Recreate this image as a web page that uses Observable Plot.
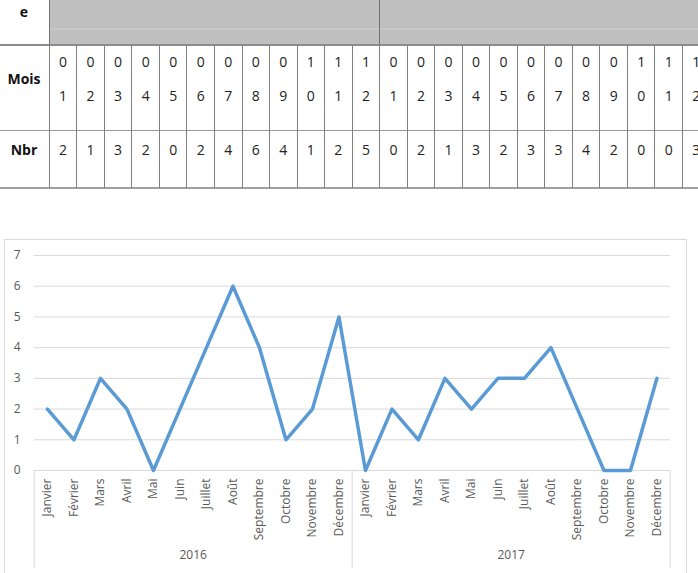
<!DOCTYPE html>
<html><head><meta charset="utf-8">
<script src="https://cdn.jsdelivr.net/npm/d3@7"></script>
<script src="https://cdn.jsdelivr.net/npm/@observablehq/plot@0.6"></script>
<style>
body{margin:0;background:#fff;overflow:hidden}
#page{position:relative;width:698px;height:573px;overflow:hidden;font-family:"Open Sans",sans-serif;background:#fff}
.t{position:absolute;transform:translate(-50%,-50%);font-size:14px;line-height:1;color:#222;white-space:nowrap}
.b{font-weight:bold;color:#111}
.ln{position:absolute}
#chartbox{position:absolute;left:4px;top:239px;width:681px;height:400px;border:1px solid #D9D9D9}
#chart{position:absolute;left:0;top:230px}
</style></head><body><div id="page"><div id="chartbox"></div><div id="chart"></div></div>
<script>
// ---- data ----
const years = ["2016", "2017"];
const months = ["Janvier","Février","Mars","Avril","Mai","Juin","Juillet","Août","Septembre","Octobre","Novembre","Décembre"];
const monthCodes = ["01","02","03","04","05","06","07","08","09","10","11","12"];
const counts2016 = [2,1,3,2,0,2,4,6,4,1,2,5];
const counts2017 = [0,2,1,3,2,3,3,4,2,0,0,3];
const yTicks = [0,1,2,3,4,5,6,7];
const rowHeaders = {top: "e", month: "Mois", count: "Nbr"};

// ---- table (HTML) ----
const page = document.getElementById("page");
const X0 = 49.3, CW = 27.53;
function box(x, y, w, h, bg) {
  const d = document.createElement("div");
  d.className = "ln";
  Object.assign(d.style, {left: x + "px", top: y + "px", width: w + "px", height: h + "px", background: bg});
  page.appendChild(d);
}
function txt(s, cx, cy, bold) {
  const d = document.createElement("div");
  d.className = "t" + (bold ? " b" : "");
  d.textContent = s;
  d.style.left = cx + "px"; d.style.top = cy + "px";
  page.appendChild(d);
}
box(49, 0, 698 - 49, 45, "#BFBFBF");
box(49, 28, 698 - 49, 2, "#C8C8C8");
box(0, 44, 698, 2, "#8C8C8C");
box(0, 130, 698, 1, "#9A9A9A");
box(0, 187, 698, 2, "#A0A0A0");
box(49, 0, 1, 188, "#707070");
box(Math.round(X0 + 12 * CW - 0.5), 0, 1, 45, "#707070");
for (let k = 0; k <= 24; k++) box(Math.round(X0 + k * CW - 0.5), 45, 1, 143, "#808080");
txt(rowHeaders.top, 24, 12, true);
txt(rowHeaders.month, 24, 79, true);
txt(rowHeaders.count, 24, 150, true);
const allCounts = counts2016.concat(counts2017);
for (let k = 0; k < 24; k++) {
  const cx = X0 + k * CW + CW / 2;
  const code = monthCodes[k % 12];
  txt(code[0], cx, 62, false);
  txt(code[1], cx, 96, false);
  txt(String(allCounts[k]), cx, 150, false);
}

// ---- chart (Plot) ----
const rows = years.flatMap((yr, yi) => months.map((m, mi) => ({
  i: yi * 12 + mi, year: yr, month: m, n: (yi ? counts2017 : counts2016)[mi]
})));
const groupEdges = [-0.5, 11.5, 23.5];
const yearCenters = years.map((y, k) => ({year: y, x: k * 12 + 5.5}));

const chart = Plot.plot({
  width: 698, height: 343,
  marginTop: 25, marginBottom: 103, marginLeft: 33.7, marginRight: 28.3,
  style: {fontFamily: "Open Sans, sans-serif", fontSize: "12px", color: "#595959", background: "transparent"},
  x: {type: "linear", domain: [-0.5, 23.5], axis: null},
  y: {domain: [0, 7], ticks: yTicks, tickSize: 0, tickPadding: 13.5, label: null, tickFormat: d => String(d)},
  marks: [
    Plot.ruleY(yTicks, {stroke: "#D9D9D9", strokeWidth: 1}),
    Plot.ruleX(groupEdges, {stroke: "#D9D9D9", strokeWidth: 1, insetTop: 215, insetBottom: -98}),
    Plot.text(rows, {x: "i", text: "month", frameAnchor: "bottom", dy: 8, rotate: -90, textAnchor: "end", lineAnchor: "middle", fill: "#595959", fontSize: 12}),
    Plot.text(yearCenters, {x: "x", text: "year", frameAnchor: "bottom", dy: 88, fill: "#595959", fontSize: 12}),
    Plot.line(rows, {x: "i", y: "n", stroke: "#5B9BD5", strokeWidth: 3.5, strokeLinejoin: "round"})
  ]
});
document.getElementById("chart").appendChild(chart);
</script>
</body></html>
